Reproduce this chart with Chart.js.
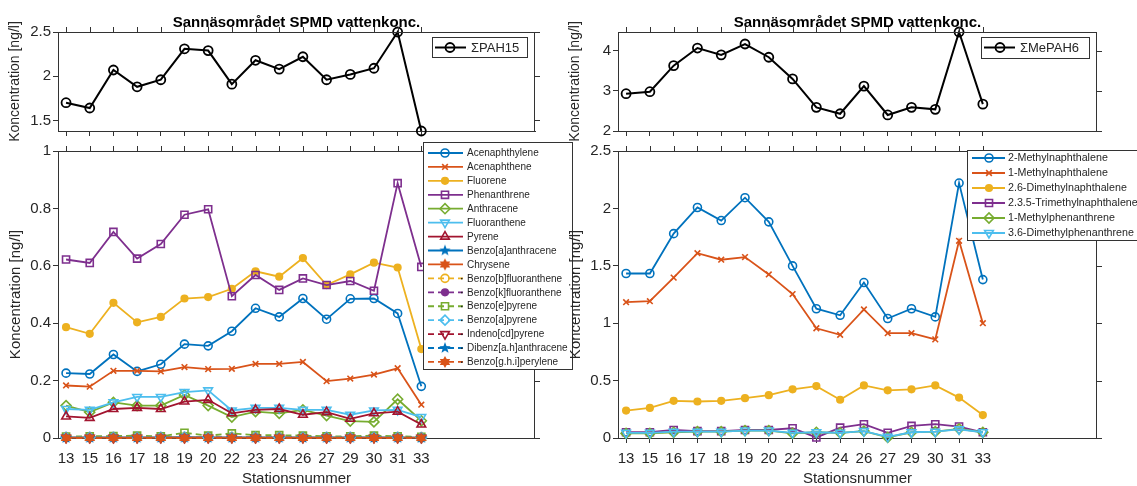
<!DOCTYPE html>
<html>
<head>
<meta charset="utf-8">
<script src="https://cdn.jsdelivr.net/npm/chart.js@4.4.0/dist/chart.umd.min.js"></script>
<style>
  body{margin:0;background:#fff;width:1137px;height:486px;overflow:hidden;position:relative;font-family:"Liberation Sans",Arial,sans-serif}
  canvas{position:absolute}
</style>
</head>
<body>
<canvas id="tl" width="560" height="145" style="left:0px;top:0px"></canvas>
<canvas id="bl" width="580" height="346" style="left:0px;top:140px"></canvas>
<canvas id="tr" width="577" height="145" style="left:560px;top:0px"></canvas>
<canvas id="br" width="577" height="346" style="left:560px;top:140px"></canvas>
<script>
// station numbers along x (plotted at index positions 0..15)
const stations = ['13','15','16','17','18','19','20','22','23','24','26','27','29','30','31','33'];

// sums (top panels)
const sumPAH15  = [1.70,1.64,2.07,1.88,1.96,2.31,2.29,1.91,2.18,2.08,2.22,1.96,2.02,2.09,2.50,1.38];
const sumMePAH6 = [2.93,2.98,3.63,4.07,3.90,4.17,3.84,3.30,2.59,2.43,3.12,2.40,2.59,2.54,4.47,2.67];

// PAH, left bottom panel
const acenaphthylene   = [0.226,0.223,0.291,0.232,0.257,0.327,0.321,0.372,0.452,0.422,0.486,0.414,0.485,0.486,0.434,0.180];
const acenaphthene     = [0.183,0.179,0.234,0.234,0.232,0.247,0.240,0.241,0.258,0.258,0.265,0.198,0.207,0.221,0.243,0.116];
const fluorene         = [0.386,0.363,0.471,0.403,0.422,0.486,0.491,0.520,0.581,0.562,0.627,0.533,0.570,0.611,0.594,0.310];
const phenanthrene     = [0.622,0.610,0.718,0.625,0.676,0.778,0.797,0.494,0.568,0.516,0.556,0.533,0.547,0.513,0.888,0.596];
const anthracene       = [0.113,0.090,0.124,0.113,0.113,0.150,0.113,0.073,0.092,0.086,0.098,0.078,0.059,0.056,0.135,0.060];
const fluoranthene     = [0.101,0.098,0.124,0.143,0.143,0.160,0.166,0.096,0.105,0.105,0.098,0.098,0.081,0.096,0.098,0.073];
const pyrene           = [0.075,0.070,0.101,0.105,0.101,0.127,0.133,0.086,0.098,0.101,0.081,0.090,0.067,0.086,0.092,0.047];
const benzoAanthracene = [0.002,0.002,0.002,0.002,0.002,0.003,0.002,0.002,0.002,0.002,0.002,0.002,0.002,0.002,0.002,0.001];
const chrysene         = [0.001,0.001,0.001,0.001,0.001,0.002,0.001,0.001,0.001,0.001,0.001,0.001,0.001,0.001,0.001,0.001];
const benzoBfluoranth  = [0.003,0.003,0.003,0.003,0.003,0.004,0.003,0.003,0.003,0.003,0.003,0.003,0.003,0.003,0.003,0.002];
const benzoKfluoranth  = [0.002,0.002,0.002,0.002,0.002,0.003,0.002,0.002,0.002,0.002,0.002,0.002,0.002,0.002,0.002,0.001];
const benzoEpyrene     = [0.005,0.006,0.007,0.008,0.006,0.018,0.008,0.016,0.010,0.010,0.008,0.006,0.006,0.008,0.006,0.004];
const benzoApyrene     = [0.002,0.002,0.002,0.002,0.002,0.003,0.002,0.002,0.002,0.002,0.002,0.002,0.002,0.002,0.002,0.001];
const indenoPyrene     = [0.001,0.001,0.001,0.001,0.001,0.001,0.001,0.001,0.001,0.001,0.001,0.001,0.001,0.001,0.001,0.001];
const dibenzAnthracene = [0.000,0.000,0.000,0.000,0.000,0.000,0.000,0.000,0.000,0.000,0.000,0.000,0.000,0.000,0.000,0.000];
const benzoGHIperylene = [0.000,0.000,0.000,0.000,0.000,0.000,0.000,0.000,0.000,0.000,0.000,0.000,0.000,0.000,0.000,0.000];

// MePAH, right bottom panel
const methylNaph2    = [1.433,1.433,1.780,2.008,1.894,2.093,1.883,1.499,1.126,1.069,1.354,1.041,1.126,1.055,2.221,1.380];
const methylNaph1    = [1.183,1.192,1.397,1.610,1.553,1.576,1.425,1.254,0.956,0.899,1.120,0.913,0.913,0.859,1.718,1.000];
const dimethylNaph26 = [0.239,0.262,0.324,0.318,0.324,0.347,0.373,0.424,0.452,0.333,0.458,0.415,0.424,0.458,0.352,0.200];
const trimethNaph235 = [0.050,0.050,0.070,0.060,0.060,0.070,0.070,0.085,0.005,0.090,0.120,0.045,0.105,0.120,0.100,0.050];
const methylPhen1    = [0.040,0.040,0.050,0.055,0.055,0.065,0.065,0.040,0.050,0.045,0.060,0.005,0.050,0.055,0.080,0.050];
const dimethylPhen36 = [0.045,0.045,0.055,0.055,0.055,0.065,0.065,0.045,0.050,0.045,0.060,0.010,0.050,0.055,0.075,0.050];

const pahLabels = ['Acenaphthylene','Acenaphthene','Fluorene','Phenanthrene','Anthracene','Fluoranthene','Pyrene',
  'Benzo[a]anthracene','Chrysene','Benzo[b]fluoranthene','Benzo[k]fluoranthene','Benzo[e]pyrene','Benzo[a]pyrene',
  'Indeno[cd]pyrene','Dibenz[a.h]anthracene','Benzo[g.h.i]perylene'];
const pahValues = [acenaphthylene,acenaphthene,fluorene,phenanthrene,anthracene,fluoranthene,pyrene,benzoAanthracene,
  chrysene,benzoBfluoranth,benzoKfluoranth,benzoEpyrene,benzoApyrene,indenoPyrene,dibenzAnthracene,benzoGHIperylene];
const mepahLabels = ['2-Methylnaphthalene','1-Methylnaphthalene','2.6-Dimethylnaphthalene','2.3.5-Trimethylnaphthalene',
  '1-Methylphenanthrene','3.6-Dimethylphenanthrene'];
const mepahValues = [methylNaph2,methylNaph1,dimethylNaph26,trimethNaph235,methylPhen1,dimethylPhen36];

const markers = ['o','x','.','s','d','v','^','p','h','o','.','s','d','v','p','h'];

const yTicksTopLeft = [1.5, 2, 2.5];
const yTicksTopRight = [2, 3, 4];
const yTicksBottomLeft = [0, 0.2, 0.4, 0.6, 0.8, 1];
const yTicksBottomRight = [0, 0.5, 1, 1.5, 2, 2.5];

const palette = ['#0072BD','#D95319','#EDB120','#7E2F8E','#77AC30','#4DBEEE','#A2142F'];
const axisColor = '#333333';
const textColor = '#262626';
const fontFam = '"Liberation Sans", Arial, sans-serif';
const titleText = 'Sannäsområdet SPMD vattenkonc.';

// filled star marker (pentagram / hexagram)
function starImg(color, n, outer, inner){
  const c = document.createElement('canvas');
  c.width = c.height = Math.ceil(outer*2+2);
  const g = c.getContext('2d');
  g.fillStyle = color;
  g.beginPath();
  for(let k=0;k<n*2;k++){
    const r = k%2 ? inner : outer;
    const a = -Math.PI/2 + k*Math.PI/n;
    g.lineTo(c.width/2 + r*Math.cos(a), c.height/2 + r*Math.sin(a));
  }
  g.closePath(); g.fill();
  return c;
}

function markerStyle(m, color){
  const none = 'rgba(0,0,0,0)';
  switch(m){
    case 'o': return {style:'circle', r:4, fill:none};
    case 'x': return {style:'crossRot', r:4, fill:none};
    case '.': return {style:'circle', r:3.3, fill:color};
    case 's': return {style:'rect', r:5, fill:none};
    case 'd': return {style:'rectRot', r:5, fill:none};
    case 'v': return {style:'triangle', r:5, fill:none, rot:180};
    case '^': return {style:'triangle', r:5, fill:none};
    case 'p': return {style:starImg(color,5,6,2.5), r:6, fill:color};
    case 'h': return {style:starImg(color,6,6,3.4), r:6, fill:color};
  }
}

function series(label, values, color, marker, dashed, order){
  const m = markerStyle(marker, color);
  return {
    label, data: values.map((v,i)=>({x:i, y:v})),
    borderColor: color, borderWidth: 1.8, borderDash: dashed ? [6,4] : [],
    pointStyle: m.style, pointRadius: m.r, pointRotation: m.rot || 0,
    pointBackgroundColor: m.fill, pointBorderColor: color, pointBorderWidth: 1.6,
    legendDot: dashed, clip: false, order
  };
}

// top/right box edges with outward ticks, plus the panel title
const framePlugin = {
  id: 'frame',
  afterDraw(chart, args, o){
    const {ctx, chartArea:a, scales:{x, y}} = chart;
    ctx.save();
    ctx.strokeStyle = axisColor; ctx.lineWidth = 1;
    ctx.beginPath();
    ctx.moveTo(a.left, Math.round(a.top)+0.5); ctx.lineTo(a.right, Math.round(a.top)+0.5);
    ctx.moveTo(Math.round(a.right)-0.5, a.top); ctx.lineTo(Math.round(a.right)-0.5, a.bottom);
    x.ticks.forEach(t=>{
      const px = Math.round(x.getPixelForValue(t.value))+0.5;
      ctx.moveTo(px, a.top); ctx.lineTo(px, a.top-5);
    });
    y.ticks.forEach(t=>{
      const py = Math.round(y.getPixelForValue(t.value))+0.5;
      ctx.moveTo(a.right, py); ctx.lineTo(a.right+5, py);
    });
    ctx.stroke();
    if(o.title){
      ctx.fillStyle = '#000';
      ctx.font = 'bold 15px ' + fontFam;
      ctx.textAlign = 'center'; ctx.textBaseline = 'alphabetic';
      ctx.fillText(o.title, (a.left+a.right)/2, 27);
    }
    ctx.restore();
  }
};

// MATLAB style legend box drawn from the chart's datasets
const legendPlugin = {
  id: 'boxLegend',
  afterDraw(chart, args, o){
    if(!o.show) return;
    const ctx = chart.ctx;
    ctx.save();
    ctx.fillStyle = '#fff'; ctx.strokeStyle = axisColor; ctx.lineWidth = 1;
    ctx.fillRect(o.x, o.y, o.w, o.h);
    ctx.strokeRect(o.x+0.5, o.y+0.5, o.w, o.h);
    ctx.font = o.fontSize + 'px ' + fontFam;
    ctx.textBaseline = 'middle'; ctx.textAlign = 'left';
    chart.data.datasets.forEach((d,i)=>{
      const cy = o.firstRow + i*o.rowH;
      ctx.strokeStyle = d.borderColor; ctx.lineWidth = d.borderWidth;
      ctx.setLineDash(d.borderDash);
      ctx.beginPath(); ctx.moveTo(o.lineFrom, cy); ctx.lineTo(o.lineTo, cy); ctx.stroke();
      ctx.setLineDash([]);
      ctx.fillStyle = d.pointBackgroundColor; ctx.strokeStyle = d.pointBorderColor; ctx.lineWidth = d.pointBorderWidth;
      Chart.helpers.drawPoint(ctx, {pointStyle:d.pointStyle, radius:d.pointRadius, rotation:d.pointRotation, borderWidth:d.pointBorderWidth}, o.markX, cy);
      ctx.fillStyle = textColor;
      if(d.legendDot){ ctx.fillRect(o.textX-6, cy-0.5, 1.5, 1.5); }
      ctx.fillText(d.label, o.textX, cy+0.5);
    });
    ctx.restore();
  }
};

function panel(id, cfg){
  return new Chart(document.getElementById(id), {
    type: 'line',
    data: { datasets: cfg.datasets },
    options: {
      responsive: false, animation: false, devicePixelRatio: 1,
      layout: { padding: cfg.padding },
      plugins: { legend:{display:false}, tooltip:{enabled:false}, frame:{title: cfg.title}, boxLegend: cfg.legend },
      scales: {
        x: {
          type: 'linear', min: -0.34, max: 19.8,
          afterBuildTicks: s => { s.ticks = stations.map((_,i)=>({value:i})); },
          afterFit: s => { s.height = cfg.xHeight; },
          grid: {drawOnChartArea:false, drawTicks:true, tickLength:5, color:axisColor},
          border: {color:axisColor},
          ticks: {display: cfg.xLabels, autoSkip:false, maxRotation:0, padding:7, color:textColor,
                  font:{family:fontFam, size:15}, callback: v => stations[v]},
          title: {display: cfg.xLabels, text:'Stationsnummer', color:textColor,
                  font:{family:fontFam, size:15}, padding:{top:0, bottom:-2}}
        },
        y: {
          min: cfg.yMin, max: cfg.yMax,
          afterBuildTicks: s => { s.ticks = cfg.yTicks.map(v=>({value:v})); },
          afterFit: s => { s.width = 58; },
          grid: {drawOnChartArea:false, drawTicks:true, tickLength:5, color:axisColor},
          border: {color:axisColor},
          ticks: {padding:2, color:textColor, font:{family:fontFam, size:15}, callback: v => String(v)},
          title: {display:true, text:'Koncentration [ng/l]', color:textColor,
                  font:{family:fontFam, size:cfg.yTitleSize}, padding:{top:7, bottom:0}}
        }
      }
    },
    plugins: [framePlugin, legendPlugin]
  });
}

// top left: sum PAH15
panel('tl', {
  datasets: [Object.assign(series('\u03A3PAH15', sumPAH15, '#000000', 'o', false, 1), {borderWidth:2, pointRadius:4.5, pointBorderWidth:1.8})],
  padding: {top:32, right:25, left:0, bottom:0}, xHeight:14, xLabels:false,
  yMin:1.38, yMax:2.5, yTicks:yTicksTopLeft, yTitleSize:14, title:titleText,
  legend: {show:true, x:432, y:37, w:95, h:20, firstRow:47.5, rowH:15, lineFrom:435, lineTo:466, markX:450, textX:471, fontSize:13}
});

// bottom left: individual PAH
panel('bl', {
  datasets: pahValues.map((v,i)=>series(pahLabels[i], v, palette[i%7], markers[i], i>=9, pahValues.length-i)),
  padding: {top:5, right:45, left:0, bottom:0}, xHeight:48, xLabels:true,
  yMin:0, yMax:1, yTicks:yTicksBottomLeft, yTitleSize:15, title:'',
  legend: {show:true, x:423, y:2, w:149, h:227, firstRow:13, rowH:13.93, lineFrom:428, lineTo:463, markX:445, textX:467, fontSize:10}
});

// top right: sum MePAH6
panel('tr', {
  datasets: [Object.assign(series('\u03A3MePAH6', sumMePAH6, '#000000', 'o', false, 1), {borderWidth:2, pointRadius:4.5, pointBorderWidth:1.8})],
  padding: {top:32, right:40, left:0, bottom:0}, xHeight:14, xLabels:false,
  yMin:2, yMax:4.47, yTicks:yTicksTopRight, yTitleSize:14, title:titleText,
  legend: {show:true, x:421, y:37, w:108, h:21, firstRow:47.5, rowH:15, lineFrom:424, lineTo:455, markX:440, textX:460, fontSize:13}
});

// bottom right: individual MePAH
panel('br', {
  datasets: mepahValues.map((v,i)=>series(mepahLabels[i], v, palette[i%7], markers[i], false, mepahValues.length-i)),
  padding: {top:5, right:40, left:0, bottom:0}, xHeight:48, xLabels:true,
  yMin:0, yMax:2.5, yTicks:yTicksBottomRight, yTitleSize:15, title:'',
  legend: {show:true, x:407, y:10, w:200, h:90, firstRow:18, rowH:15, lineFrom:412, lineTo:445, markX:429, textX:448, fontSize:10.7}
});
</script>
</body>
</html>
